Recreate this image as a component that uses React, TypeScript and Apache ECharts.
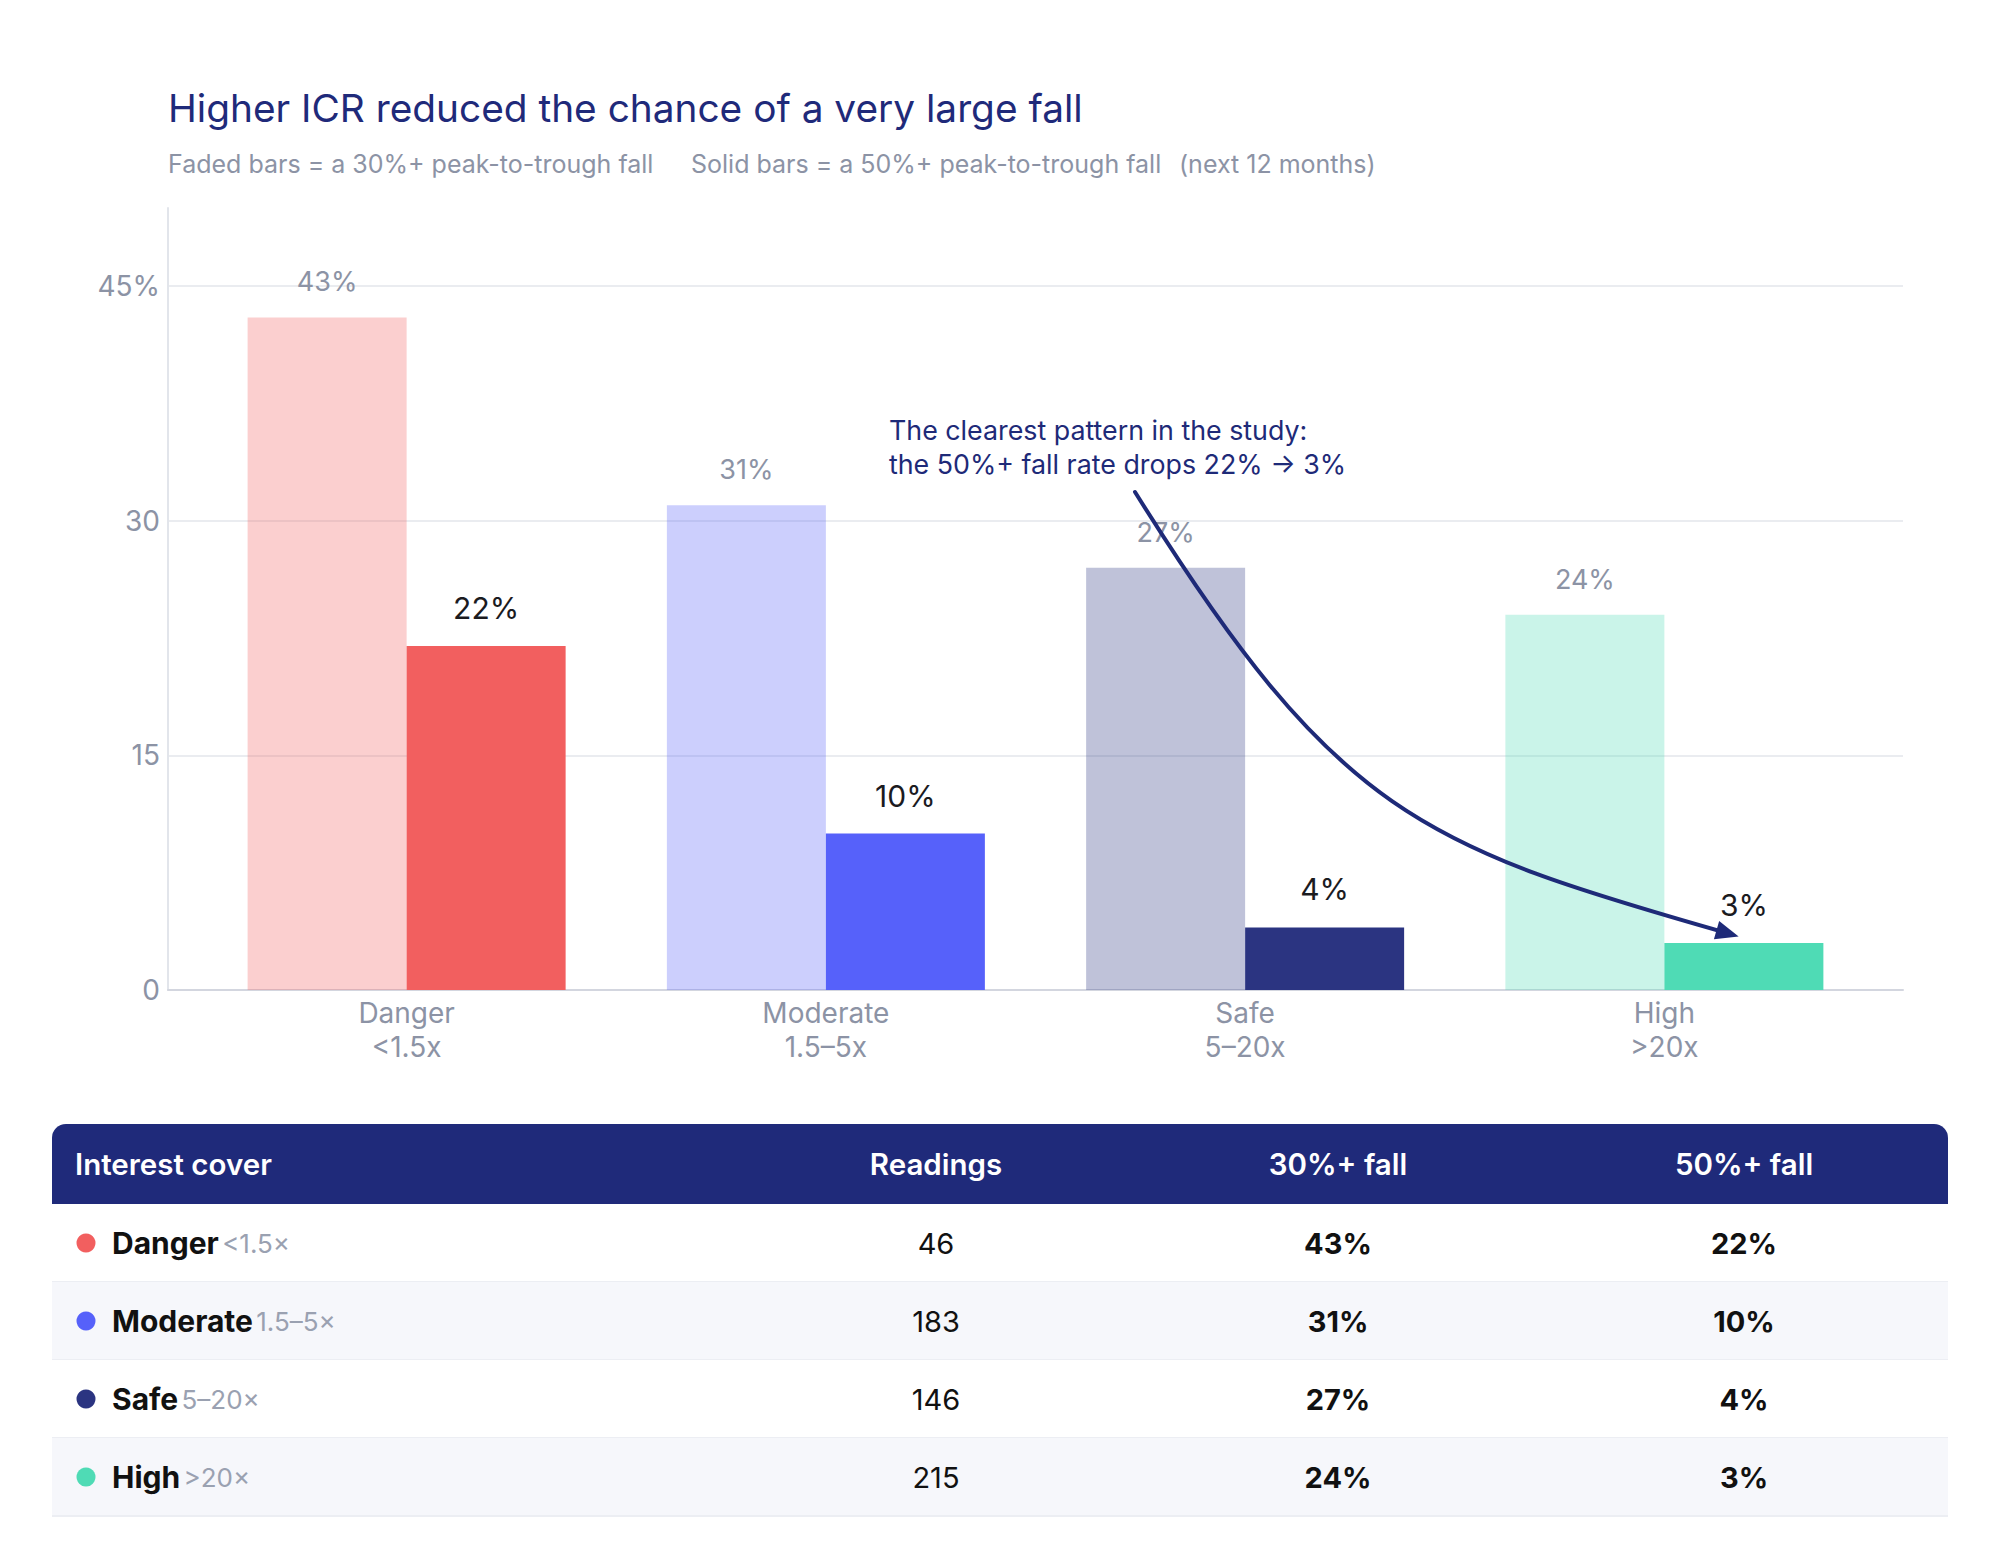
import React, { useEffect, useRef } from 'react';
import * as echarts from 'echarts';

const categories = ['Danger', 'Moderate', 'Safe', 'High'];
const ranges = ['<1.5x', '1.5–5x', '5–20x', '>20x'];
const tableRanges = ['<1.5×', '1.5–5×', '5–20×', '>20×'];
const fall30 = [43, 31, 27, 24];
const fall50 = [22, 10, 4, 3];
const readings = [46, 183, 146, 215];
const yTickStep = 15;
const yMax = 50;
const colors = ['#f25f5f', '#5661fa', '#2b3481', '#4fdbb5'];
const tableHeaders = ['Interest cover', 'Readings', '30%+ fall', '50%+ fall'];

const FONT = 'Inter, "Noto Sans", sans-serif';
const NAVY = '#1f2a7a';
const GREY = '#8c93a5';

// faded bars are the solid colour at 30% alpha, so grid lines show through
function fade(hex: string, a = 0.3) {
  const n = parseInt(hex.slice(1), 16);
  return `rgba(${(n >> 16) & 255},${(n >> 8) & 255},${n & 255},${a})`;
}

function buildTable() {
  const left = 52;
  const right = 1948;
  const top = 1124;
  const headH = 80;
  const rowH = 78;
  const colX = [75, 936, 1338, 1744];
  const els: any[] = [];
  els.push({
    type: 'rect',
    shape: { x: left, y: top, width: right - left, height: headH, r: [14, 14, 0, 0] },
    style: { fill: NAVY },
  });
  tableHeaders.forEach((h, i) => {
    els.push({
      type: 'text',
      x: colX[i],
      y: top + headH / 2,
      style: {
        text: h,
        fill: '#ffffff',
        font: `600 29.5px ${FONT}`,
        align: i === 0 ? 'left' : 'center',
        verticalAlign: 'middle',
      },
    });
  });
  categories.forEach((c, i) => {
    const y0 = top + headH + i * rowH;
    const cy = y0 + rowH / 2;
    els.push({
      type: 'rect',
      shape: { x: left, y: y0, width: right - left, height: rowH },
      style: { fill: i % 2 === 1 ? '#f6f7fb' : '#ffffff' },
    });
    els.push({
      type: 'line',
      shape: { x1: left, y1: y0 + rowH, x2: right, y2: y0 + rowH },
      style: { stroke: '#eceef3', lineWidth: 2 },
    });
    els.push({ type: 'circle', shape: { cx: 86, cy, r: 9.5 }, style: { fill: colors[i] } });
    els.push({
      type: 'text',
      x: 112,
      y: cy,
      style: {
        text: `{n|${c}} {r|${tableRanges[i]}}`,
        verticalAlign: 'middle',
        rich: {
          n: { font: `700 30px ${FONT}`, fill: '#111111' },
          r: { font: `400 26px ${FONT}`, fill: '#9aa1b1' },
        },
      },
    });
    els.push({
      type: 'text',
      x: colX[1],
      y: cy,
      style: { text: String(readings[i]), font: `400 29px ${FONT}`, fill: '#111111', align: 'center', verticalAlign: 'middle' },
    });
    els.push({
      type: 'text',
      x: colX[2],
      y: cy,
      style: { text: `${fall30[i]}%`, font: `700 29px ${FONT}`, fill: '#111111', align: 'center', verticalAlign: 'middle' },
    });
    els.push({
      type: 'text',
      x: colX[3],
      y: cy,
      style: { text: `${fall50[i]}%`, font: `700 29px ${FONT}`, fill: '#111111', align: 'center', verticalAlign: 'middle' },
    });
  });
  return els;
}

export default function App() {
  const ref = useRef<HTMLDivElement | null>(null);

  useEffect(() => {
    if (!ref.current) return;
    const chart = echarts.init(ref.current, undefined, { renderer: 'svg' });

    // arrow from annotation to the last solid bar
    const p0 = [1135, 492];
    const c1 = [1337, 815];
    const c2 = [1420, 846];
    const p3 = [1730, 934];
    const dir = [0.961, 0.275];
    const tip = [p3[0] + dir[0] * 9, p3[1] + dir[1] * 9];
    const back = [tip[0] - dir[0] * 23, tip[1] - dir[1] * 23];
    const perp = [-dir[1] * 9.5, dir[0] * 9.5];

    chart.setOption({
      animation: false,
      backgroundColor: '#ffffff',
      textStyle: { fontFamily: FONT },
      grid: [
        { left: 168, right: 97, top: 208, bottom: 578 },
        { left: 197, right: 126, top: 208, bottom: 578 },
      ],
      xAxis: [
        {
          type: 'category',
          gridIndex: 0,
          data: categories,
          axisLine: { show: true, lineStyle: { color: '#d3d6df', width: 2 } },
          axisTick: { show: false },
          axisLabel: { show: false },
        },
        {
          type: 'category',
          gridIndex: 1,
          data: categories.map((c, i) => `${c}\n${ranges[i]}`),
          axisLine: { show: false },
          axisTick: { show: false },
          axisLabel: { color: GREY, fontSize: 28, lineHeight: 34, margin: 6, fontFamily: FONT },
        },
      ],
      yAxis: [
        {
          type: 'value',
          gridIndex: 0,
          min: 0,
          max: yMax,
          interval: yTickStep,
          axisLine: { show: true, lineStyle: { color: '#e2e5eb', width: 2 } },
          axisTick: { show: false },
          axisLabel: {
            color: GREY,
            fontSize: 28,
            margin: 8,
            fontFamily: FONT,
            showMaxLabel: false,
            formatter: (v: number) => (v === yMax ? '' : v === 45 ? '45%' : String(v)),
          },
          splitLine: { show: true, showMinLine: false, showMaxLine: false, lineStyle: { color: '#eaecf0', width: 2 } },
        },
        {
          type: 'value',
          gridIndex: 1,
          min: 0,
          max: yMax,
          interval: yTickStep,
          show: false,
          splitLine: { show: false },
        },
      ],
      series: [
        {
          name: '30%+ fall',
          type: 'bar',
          xAxisIndex: 1,
          yAxisIndex: 1,
          barWidth: 159,
          barGap: '0%',
          data: fall30.map((v, i) => ({ value: v, itemStyle: { color: fade(colors[i]) } })),
          label: {
            show: true,
            position: 'top',
            distance: 22,
            color: GREY,
            fontSize: 27,
            fontFamily: FONT,
            formatter: '{c}%',
          },
        },
        {
          name: '50%+ fall',
          type: 'bar',
          xAxisIndex: 1,
          yAxisIndex: 1,
          barWidth: 159,
          barGap: '0%',
          data: fall50.map((v, i) => ({ value: v, itemStyle: { color: colors[i] } })),
          label: {
            show: true,
            position: 'top',
            distance: 23,
            color: '#1b1b1f',
            fontSize: 30,
            fontFamily: FONT,
            formatter: '{c}%',
          },
        },
      ],
      graphic: [
        {
          type: 'text',
          x: 168,
          y: 107,
          style: { text: 'Higher ICR reduced the chance of a very large fall', font: `400 38.8px ${FONT}`, fill: '#1f2a7a', verticalAlign: 'middle' },
        },
        {
          type: 'text',
          x: 168,
          y: 164,
          style: { text: 'Faded bars = a 30%+ peak-to-trough fall', font: `400 25px ${FONT}`, fill: GREY, verticalAlign: 'middle' },
        },
        {
          type: 'text',
          x: 691,
          y: 164,
          style: { text: 'Solid bars = a 50%+ peak-to-trough fall', font: `400 25px ${FONT}`, fill: GREY, verticalAlign: 'middle' },
        },
        {
          type: 'text',
          x: 1179,
          y: 164,
          style: { text: '(next 12 months)', font: `400 25px ${FONT}`, fill: GREY, verticalAlign: 'middle' },
        },
        {
          type: 'text',
          x: 889,
          y: 413,
          z: 100,
          style: {
            text: 'The clearest pattern in the study:\nthe 50%+ fall rate drops 22% → 3%',
            font: `400 26.8px ${FONT}`,
            lineHeight: 34,
            fill: '#1e2a78',
            verticalAlign: 'top',
          },
        },
        {
          type: 'bezierCurve',
          z: 100,
          shape: { x1: p0[0], y1: p0[1], cpx1: c1[0], cpy1: c1[1], cpx2: c2[0], cpy2: c2[1], x2: p3[0], y2: p3[1] },
          style: { stroke: '#1e2a78', lineWidth: 4, lineCap: 'round', fill: null },
        },
        {
          type: 'polygon',
          z: 100,
          shape: {
            points: [
              tip,
              [back[0] + perp[0], back[1] + perp[1]],
              [back[0] - perp[0], back[1] - perp[1]],
            ],
          },
          style: { fill: '#1e2a78' },
        },
        ...buildTable(),
      ],
    });

    return () => {
      chart.dispose();
    };
  }, []);

  return <div ref={ref} style={{ position: 'absolute', left: 0, top: 0, width: 2000, height: 1568 }} />;
}
